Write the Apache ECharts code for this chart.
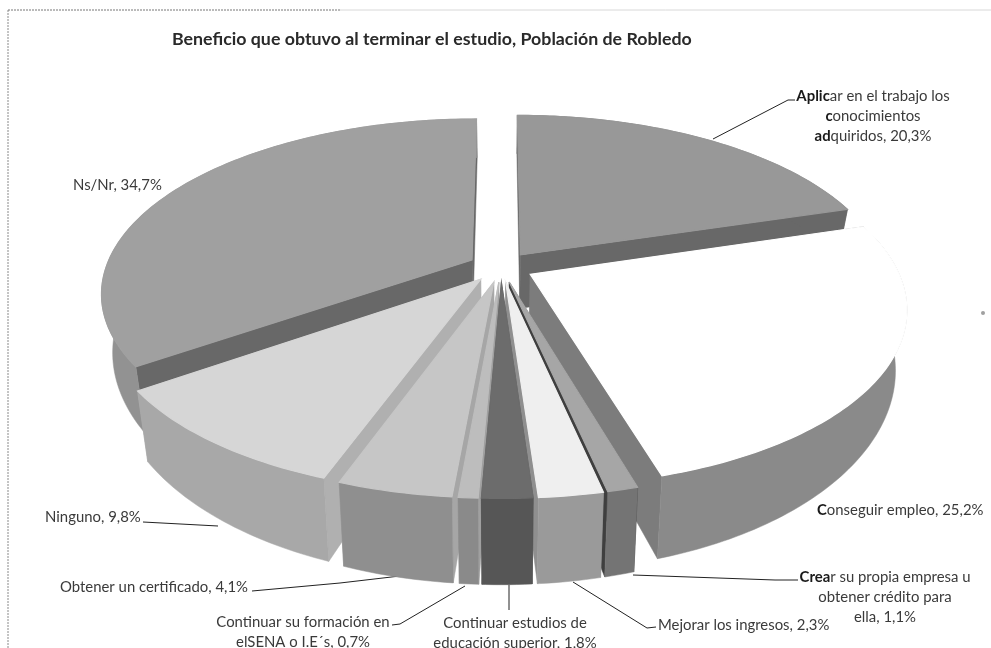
<!DOCTYPE html>
<html><head><meta charset="utf-8">
<style>html,body{margin:0;padding:0;background:#fff}#c{width:991px;height:648px}</style>
<script src="https://cdn.jsdelivr.net/npm/echarts@6/dist/echarts.min.js"></script>
</head><body><div id="c"></div>
<script>
const titleText = 'Beneficio que obtuvo al terminar el estudio, Población de Robledo';
const categories = ['Aplicar en el trabajo los conocimientos adquiridos','Conseguir empleo','Crear su propia empresa u obtener crédito para ella','Mejorar los ingresos','Continuar estudios de educación superior','Continuar su formación en elSENA o I.E´s','Obtener un certificado','Ninguno','Ns/Nr'];
const values = [20.3,25.2,1.1,2.3,1.8,0.7,4.1,9.8,34.7];

// appearance, separate from the data
const topColors    = ['#989898','#ffffff','#a6a6a6','#efefef','#6c6c6c','#bdbdbd','#c6c6c6','#d6d6d6','#a0a0a0'];
const outerColors  = ['#686868','#8a8a8a','#747474','#9a9a9a','#565656','#8a8a8a','#8f8f8f','#a8a8a8','#929292'];
const radialColors = ['#686868','#7c7c7c','#3f3f3f','#8f8f8f','#4a4a4a','#a0a0a0','#a6a6a6','#b0b0b0','#686868'];
const view = {cx:501, cy:267, rx:366, ry:169.5, persp:0.185, explode:0.09, depth:55, shrink:0.972};

const rad = d => d*Math.PI/180;
function project(u,v){
  const s = 1/(1+view.persp*v);
  return {x:view.cx+view.rx*u*s, y:view.cy-view.ry*v*s, s};
}
function ground(mid,theta,r){
  return [view.explode*Math.sin(rad(mid))+r*Math.sin(rad(theta)),
          view.explode*Math.cos(rad(mid))+r*Math.cos(rad(theta))];
}
function topPt(mid,theta,r){const g=ground(mid,theta,r);const p=project(g[0],g[1]);return [p.x,p.y];}
function botPt(mid,theta,r){const g=ground(mid,theta,r);const p=project(g[0],g[1]);
  return [view.cx+(p.x-view.cx)*view.shrink, p.y+view.depth*p.s*p.s];}

const total = values.reduce((a,b)=>a+b,0);
const starts = []; values.reduce((a,b,i)=>{starts[i]=a;return a+b;},0);
const order = values.map((_,i)=>i).sort((p,q)=>{
  const mp=(starts[p]+values[p]/2)/total*360, mq=(starts[q]+values[q]/2)/total*360;
  return Math.cos(rad(mq))-Math.cos(rad(mp));
});

function renderSlice(params,api){
  const i = api.value(1), a = starts[i]/total*360, b = (starts[i]+api.value(0))/total*360, m=(a+b)/2;
  const rim=[],rimB=[];
  for(let t=a;t<b;t+=1){rim.push(topPt(m,t,1));rimB.push(botPt(m,t,1));}
  rim.push(topPt(m,b,1));rimB.push(botPt(m,b,1));
  const A=topPt(m,a,0),AB=botPt(m,a,0);
  const rank=order.indexOf(i)*10;
  const poly=(pts,fill,k,w)=>({type:'polygon',z2:rank+k,shape:{points:pts},style:{fill,stroke:fill,lineWidth:w}});
  return {type:'group',children:[
    poly([A,rim[0],rimB[0],AB],radialColors[i],1,0.5),
    poly([A,rim[rim.length-1],rimB[rimB.length-1],AB],radialColors[i],2,0.5),
    poly(rim.concat(rimB.slice().reverse()),outerColors[i],3,0.5),
    poly([A].concat(rim),topColors[i],4,1.2)
  ]};
}

const pct = i => values[i].toFixed(1).replace('.',',')+'%';
const labelFont = '14.9px Lato, sans-serif', ink='#3a3a3a';
const texts = [
  {lines:['Ns/Nr, '+pct(8)],x:73,y:185,align:'left'},
  {lines:['{b|Aplic}ar en el trabajo los','{b|c}onocimientos','{b|ad}quiridos, '+pct(0)],x:873,y:96,align:'center'},
  {lines:['{b|C}onseguir empleo, '+pct(1)],x:817,y:510,align:'left'},
  {lines:['{b|Crea}r su propia empresa u','obtener crédito para','ella, '+pct(2)],x:885,y:577,align:'center'},
  {lines:['Mejorar los ingresos, '+pct(3)],x:658,y:625,align:'left'},
  {lines:['Continuar estudios de','educación superior, '+pct(4)],x:515,y:623,align:'center'},
  {lines:['Continuar su formación en','elSENA o I.E´s, '+pct(5)],x:303,y:622,align:'center'},
  {lines:['Obtener un certificado, '+pct(6)],x:60,y:587,align:'left'},
  {lines:['Ninguno, '+pct(7)],x:45,y:517,align:'left'}
];
const leaders = [
  [[713,139],[788,100],[795,100]],
  [[633,575],[775,580],[798,580]],
  [[573,582],[647,628],[656,627]],
  [[509,585],[509,610]],
  [[392,625],[400,624],[465,586]],
  [[252,591],[340,583],[400,576]],
  [[143,522],[218,526]]
];
const graphics = [];
texts.forEach(t=>t.lines.forEach((l,k)=>graphics.push({type:'text',x:t.x,y:t.y+k*20,silent:true,
  style:{text:l,font:labelFont,fill:ink,textAlign:t.align,textVerticalAlign:'middle',
         rich:{b:{font:'bold 14.9px Lato, sans-serif',fill:'#1a1a1a'}}}})));
leaders.forEach(p=>graphics.push({type:'polyline',silent:true,shape:{points:p},style:{stroke:'#222',lineWidth:1,fill:null}}));
graphics.push({type:'line',silent:true,shape:{x1:8,y1:10,x2:8,y2:648},style:{stroke:'#8a8a8a',lineWidth:1,lineDash:[2,1]}});
graphics.push({type:'line',silent:true,shape:{x1:8,y1:10,x2:340,y2:10},style:{stroke:'#777',lineWidth:1,lineDash:[2,1]}});
graphics.push({type:'line',silent:true,shape:{x1:340,y1:10,x2:991,y2:10},style:{stroke:'#d8d8d8',lineWidth:1}});
graphics.push({type:'circle',silent:true,shape:{cx:983,cy:313,r:2},style:{fill:'#a0a0a0'}});

const chart = echarts.init(document.getElementById('c'),null,{renderer:'canvas'});
chart.setOption({
  animation:false,
  backgroundColor:'#fff',
  title:{text:titleText,left:172,top:30,padding:0,textStyle:{fontFamily:'Lato',fontSize:17.8,fontWeight:'bold',color:'#2a2a2a'}},
  series:[{type:'custom',coordinateSystem:'none',silent:true,renderItem:renderSlice,
    data:values.map((v,i)=>({name:categories[i],value:[v,i]}))}],
  graphic:graphics
});
</script></body></html>
